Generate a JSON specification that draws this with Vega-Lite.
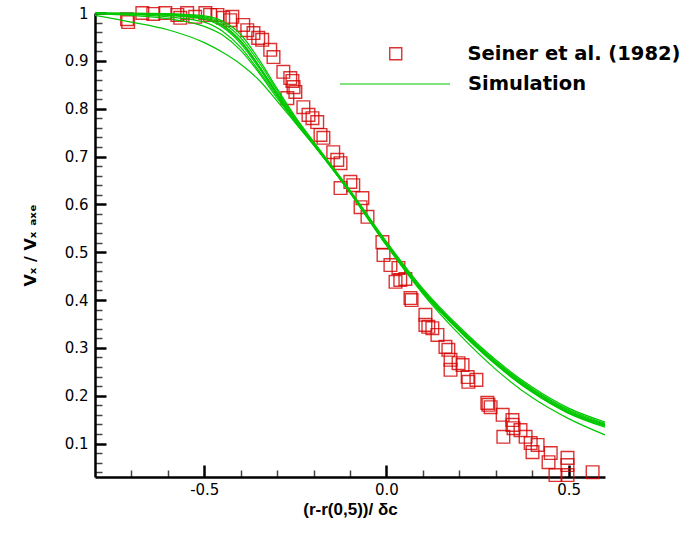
{
  "$schema": "https://vega.github.io/schema/vega-lite/v6.json",
  "width": 510,
  "height": 464,
  "autosize": {"type": "none"},
  "padding": {"left": 95, "top": 13, "right": 93, "bottom": 57},
  "background": "white",
  "config": {"view": {"stroke": null}},
  "datasets": {
    "exp": [
      {"x": -0.712, "y": 0.987, "label": "Seiner et al. (1982)"},
      {"x": -0.709, "y": 0.981, "label": "Seiner et al. (1982)"},
      {"x": -0.670, "y": 1.0, "label": "Seiner et al. (1982)"},
      {"x": -0.640, "y": 0.998, "label": "Seiner et al. (1982)"},
      {"x": -0.607, "y": 1.0, "label": "Seiner et al. (1982)"},
      {"x": -0.574, "y": 0.996, "label": "Seiner et al. (1982)"},
      {"x": -0.566, "y": 0.990, "label": "Seiner et al. (1982)"},
      {"x": -0.547, "y": 1.0, "label": "Seiner et al. (1982)"},
      {"x": -0.525, "y": 0.992, "label": "Seiner et al. (1982)"},
      {"x": -0.497, "y": 1.0, "label": "Seiner et al. (1982)"},
      {"x": -0.484, "y": 0.996, "label": "Seiner et al. (1982)"},
      {"x": -0.464, "y": 0.996, "label": "Seiner et al. (1982)"},
      {"x": -0.448, "y": 0.990, "label": "Seiner et al. (1982)"},
      {"x": -0.429, "y": 0.985, "label": "Seiner et al. (1982)"},
      {"x": -0.423, "y": 0.992, "label": "Seiner et al. (1982)"},
      {"x": -0.393, "y": 0.975, "label": "Seiner et al. (1982)"},
      {"x": -0.382, "y": 0.964, "label": "Seiner et al. (1982)"},
      {"x": -0.365, "y": 0.958, "label": "Seiner et al. (1982)"},
      {"x": -0.352, "y": 0.948, "label": "Seiner et al. (1982)"},
      {"x": -0.341, "y": 0.944, "label": "Seiner et al. (1982)"},
      {"x": -0.319, "y": 0.923, "label": "Seiner et al. (1982)"},
      {"x": -0.310, "y": 0.908, "label": "Seiner et al. (1982)"},
      {"x": -0.283, "y": 0.877, "label": "Seiner et al. (1982)"},
      {"x": -0.264, "y": 0.864, "label": "Seiner et al. (1982)"},
      {"x": -0.258, "y": 0.858, "label": "Seiner et al. (1982)"},
      {"x": -0.255, "y": 0.845, "label": "Seiner et al. (1982)"},
      {"x": -0.250, "y": 0.835, "label": "Seiner et al. (1982)"},
      {"x": -0.272, "y": 0.822, "label": "Seiner et al. (1982)"},
      {"x": -0.228, "y": 0.803, "label": "Seiner et al. (1982)"},
      {"x": -0.214, "y": 0.787, "label": "Seiner et al. (1982)"},
      {"x": -0.203, "y": 0.780, "label": "Seiner et al. (1982)"},
      {"x": -0.190, "y": 0.772, "label": "Seiner et al. (1982)"},
      {"x": -0.181, "y": 0.745, "label": "Seiner et al. (1982)"},
      {"x": -0.173, "y": 0.739, "label": "Seiner et al. (1982)"},
      {"x": -0.146, "y": 0.709, "label": "Seiner et al. (1982)"},
      {"x": -0.135, "y": 0.693, "label": "Seiner et al. (1982)"},
      {"x": -0.126, "y": 0.686, "label": "Seiner et al. (1982)"},
      {"x": -0.099, "y": 0.647, "label": "Seiner et al. (1982)"},
      {"x": -0.091, "y": 0.640, "label": "Seiner et al. (1982)"},
      {"x": -0.126, "y": 0.634, "label": "Seiner et al. (1982)"},
      {"x": -0.066, "y": 0.613, "label": "Seiner et al. (1982)"},
      {"x": -0.071, "y": 0.594, "label": "Seiner et al. (1982)"},
      {"x": -0.052, "y": 0.574, "label": "Seiner et al. (1982)"},
      {"x": -0.011, "y": 0.521, "label": "Seiner et al. (1982)"},
      {"x": -0.008, "y": 0.494, "label": "Seiner et al. (1982)"},
      {"x": 0.011, "y": 0.473, "label": "Seiner et al. (1982)"},
      {"x": 0.033, "y": 0.467, "label": "Seiner et al. (1982)"},
      {"x": 0.025, "y": 0.438, "label": "Seiner et al. (1982)"},
      {"x": 0.038, "y": 0.442, "label": "Seiner et al. (1982)"},
      {"x": 0.052, "y": 0.444, "label": "Seiner et al. (1982)"},
      {"x": 0.066, "y": 0.404, "label": "Seiner et al. (1982)"},
      {"x": 0.069, "y": 0.400, "label": "Seiner et al. (1982)"},
      {"x": 0.107, "y": 0.369, "label": "Seiner et al. (1982)"},
      {"x": 0.107, "y": 0.348, "label": "Seiner et al. (1982)"},
      {"x": 0.115, "y": 0.344, "label": "Seiner et al. (1982)"},
      {"x": 0.126, "y": 0.341, "label": "Seiner et al. (1982)"},
      {"x": 0.140, "y": 0.327, "label": "Seiner et al. (1982)"},
      {"x": 0.162, "y": 0.302, "label": "Seiner et al. (1982)"},
      {"x": 0.170, "y": 0.296, "label": "Seiner et al. (1982)"},
      {"x": 0.176, "y": 0.275, "label": "Seiner et al. (1982)"},
      {"x": 0.176, "y": 0.254, "label": "Seiner et al. (1982)"},
      {"x": 0.198, "y": 0.268, "label": "Seiner et al. (1982)"},
      {"x": 0.209, "y": 0.264, "label": "Seiner et al. (1982)"},
      {"x": 0.223, "y": 0.239, "label": "Seiner et al. (1982)"},
      {"x": 0.225, "y": 0.229, "label": "Seiner et al. (1982)"},
      {"x": 0.247, "y": 0.233, "label": "Seiner et al. (1982)"},
      {"x": 0.277, "y": 0.185, "label": "Seiner et al. (1982)"},
      {"x": 0.280, "y": 0.181, "label": "Seiner et al. (1982)"},
      {"x": 0.286, "y": 0.176, "label": "Seiner et al. (1982)"},
      {"x": 0.319, "y": 0.160, "label": "Seiner et al. (1982)"},
      {"x": 0.321, "y": 0.114, "label": "Seiner et al. (1982)"},
      {"x": 0.346, "y": 0.149, "label": "Seiner et al. (1982)"},
      {"x": 0.346, "y": 0.139, "label": "Seiner et al. (1982)"},
      {"x": 0.349, "y": 0.132, "label": "Seiner et al. (1982)"},
      {"x": 0.368, "y": 0.128, "label": "Seiner et al. (1982)"},
      {"x": 0.382, "y": 0.114, "label": "Seiner et al. (1982)"},
      {"x": 0.396, "y": 0.101, "label": "Seiner et al. (1982)"},
      {"x": 0.401, "y": 0.082, "label": "Seiner et al. (1982)"},
      {"x": 0.415, "y": 0.097, "label": "Seiner et al. (1982)"},
      {"x": 0.451, "y": 0.080, "label": "Seiner et al. (1982)"},
      {"x": 0.445, "y": 0.061, "label": "Seiner et al. (1982)"},
      {"x": 0.497, "y": 0.070, "label": "Seiner et al. (1982)"},
      {"x": 0.497, "y": 0.055, "label": "Seiner et al. (1982)"},
      {"x": 0.464, "y": 0.034, "label": "Seiner et al. (1982)"},
      {"x": 0.497, "y": 0.034, "label": "Seiner et al. (1982)"},
      {"x": 0.566, "y": 0.040, "label": "Seiner et al. (1982)"}
    ],
    "sim": [
      {"c": 1, "x": -0.8, "y": 1.0}, {"c": 1, "x": -0.7, "y": 1.0}, {"c": 1, "x": -0.6, "y": 0.999}, {"c": 1, "x": -0.5, "y": 0.994}, {"c": 1, "x": -0.45, "y": 0.983}, {"c": 1, "x": -0.4, "y": 0.955}, {"c": 1, "x": -0.35, "y": 0.903}, {"c": 1, "x": -0.3, "y": 0.842}, {"c": 1, "x": -0.25, "y": 0.783}, {"c": 1, "x": -0.2, "y": 0.731}, {"c": 1, "x": -0.1, "y": 0.63}, {"c": 1, "x": 0, "y": 0.522}, {"c": 1, "x": 0.1, "y": 0.424}, {"c": 1, "x": 0.2, "y": 0.344}, {"c": 1, "x": 0.3, "y": 0.275}, {"c": 1, "x": 0.4, "y": 0.218}, {"c": 1, "x": 0.5, "y": 0.174}, {"c": 1, "x": 0.6, "y": 0.145},
      {"c": 2, "x": -0.8, "y": 1.0}, {"c": 2, "x": -0.7, "y": 0.999}, {"c": 2, "x": -0.6, "y": 0.998}, {"c": 2, "x": -0.5, "y": 0.992}, {"c": 2, "x": -0.45, "y": 0.979}, {"c": 2, "x": -0.4, "y": 0.948}, {"c": 2, "x": -0.35, "y": 0.897}, {"c": 2, "x": -0.3, "y": 0.838}, {"c": 2, "x": -0.25, "y": 0.781}, {"c": 2, "x": -0.2, "y": 0.73}, {"c": 2, "x": -0.1, "y": 0.628}, {"c": 2, "x": 0, "y": 0.52}, {"c": 2, "x": 0.1, "y": 0.421}, {"c": 2, "x": 0.2, "y": 0.341}, {"c": 2, "x": 0.3, "y": 0.272}, {"c": 2, "x": 0.4, "y": 0.215}, {"c": 2, "x": 0.5, "y": 0.171}, {"c": 2, "x": 0.6, "y": 0.142},
      {"c": 3, "x": -0.8, "y": 1.0}, {"c": 3, "x": -0.7, "y": 0.999}, {"c": 3, "x": -0.6, "y": 0.997}, {"c": 3, "x": -0.5, "y": 0.99}, {"c": 3, "x": -0.45, "y": 0.975}, {"c": 3, "x": -0.4, "y": 0.942}, {"c": 3, "x": -0.35, "y": 0.89}, {"c": 3, "x": -0.3, "y": 0.833}, {"c": 3, "x": -0.25, "y": 0.778}, {"c": 3, "x": -0.2, "y": 0.728}, {"c": 3, "x": -0.1, "y": 0.627}, {"c": 3, "x": 0, "y": 0.517}, {"c": 3, "x": 0.1, "y": 0.418}, {"c": 3, "x": 0.2, "y": 0.338}, {"c": 3, "x": 0.3, "y": 0.268}, {"c": 3, "x": 0.4, "y": 0.21}, {"c": 3, "x": 0.5, "y": 0.166}, {"c": 3, "x": 0.6, "y": 0.138},
      {"c": 4, "x": -0.8, "y": 0.999}, {"c": 4, "x": -0.7, "y": 0.998}, {"c": 4, "x": -0.6, "y": 0.995}, {"c": 4, "x": -0.5, "y": 0.987}, {"c": 4, "x": -0.45, "y": 0.97}, {"c": 4, "x": -0.4, "y": 0.936}, {"c": 4, "x": -0.35, "y": 0.885}, {"c": 4, "x": -0.3, "y": 0.829}, {"c": 4, "x": -0.25, "y": 0.775}, {"c": 4, "x": -0.2, "y": 0.726}, {"c": 4, "x": -0.1, "y": 0.625}, {"c": 4, "x": 0, "y": 0.515}, {"c": 4, "x": 0.1, "y": 0.416}, {"c": 4, "x": 0.2, "y": 0.336}, {"c": 4, "x": 0.3, "y": 0.266}, {"c": 4, "x": 0.4, "y": 0.208}, {"c": 4, "x": 0.5, "y": 0.164}, {"c": 4, "x": 0.6, "y": 0.136},
      {"c": 5, "x": -0.8, "y": 0.999}, {"c": 5, "x": -0.7, "y": 0.997}, {"c": 5, "x": -0.6, "y": 0.992}, {"c": 5, "x": -0.5, "y": 0.981}, {"c": 5, "x": -0.45, "y": 0.962}, {"c": 5, "x": -0.4, "y": 0.928}, {"c": 5, "x": -0.35, "y": 0.879}, {"c": 5, "x": -0.3, "y": 0.826}, {"c": 5, "x": -0.25, "y": 0.774}, {"c": 5, "x": -0.2, "y": 0.725}, {"c": 5, "x": -0.1, "y": 0.624}, {"c": 5, "x": 0, "y": 0.514}, {"c": 5, "x": 0.1, "y": 0.415}, {"c": 5, "x": 0.2, "y": 0.335}, {"c": 5, "x": 0.3, "y": 0.265}, {"c": 5, "x": 0.4, "y": 0.207}, {"c": 5, "x": 0.5, "y": 0.163}, {"c": 5, "x": 0.6, "y": 0.134},
      {"c": 6, "x": -0.8, "y": 0.999}, {"c": 6, "x": -0.7, "y": 0.998}, {"c": 6, "x": -0.6, "y": 0.996}, {"c": 6, "x": -0.5, "y": 0.988}, {"c": 6, "x": -0.45, "y": 0.973}, {"c": 6, "x": -0.4, "y": 0.94}, {"c": 6, "x": -0.35, "y": 0.888}, {"c": 6, "x": -0.3, "y": 0.831}, {"c": 6, "x": -0.25, "y": 0.776}, {"c": 6, "x": -0.2, "y": 0.726}, {"c": 6, "x": -0.1, "y": 0.625}, {"c": 6, "x": 0, "y": 0.515}, {"c": 6, "x": 0.1, "y": 0.413}, {"c": 6, "x": 0.2, "y": 0.328}, {"c": 6, "x": 0.3, "y": 0.255}, {"c": 6, "x": 0.4, "y": 0.196}, {"c": 6, "x": 0.5, "y": 0.152}, {"c": 6, "x": 0.6, "y": 0.118},
      {"c": 7, "x": -0.8, "y": 0.995}, {"c": 7, "x": -0.7, "y": 0.981}, {"c": 7, "x": -0.6, "y": 0.965}, {"c": 7, "x": -0.5, "y": 0.938}, {"c": 7, "x": -0.45, "y": 0.918}, {"c": 7, "x": -0.4, "y": 0.893}, {"c": 7, "x": -0.35, "y": 0.86}, {"c": 7, "x": -0.3, "y": 0.816}, {"c": 7, "x": -0.25, "y": 0.77}, {"c": 7, "x": -0.2, "y": 0.724}, {"c": 7, "x": -0.1, "y": 0.626}, {"c": 7, "x": 0, "y": 0.518}, {"c": 7, "x": 0.1, "y": 0.42}, {"c": 7, "x": 0.2, "y": 0.34}, {"c": 7, "x": 0.3, "y": 0.27}, {"c": 7, "x": 0.4, "y": 0.213}, {"c": 7, "x": 0.5, "y": 0.169}, {"c": 7, "x": 0.6, "y": 0.14},
      {"c": 8, "x": -0.8, "y": 0.998}, {"c": 8, "x": -0.7, "y": 0.995}, {"c": 8, "x": -0.6, "y": 0.988}, {"c": 8, "x": -0.5, "y": 0.972}, {"c": 8, "x": -0.45, "y": 0.954}, {"c": 8, "x": -0.4, "y": 0.922}, {"c": 8, "x": -0.35, "y": 0.875}, {"c": 8, "x": -0.3, "y": 0.822}, {"c": 8, "x": -0.25, "y": 0.772}, {"c": 8, "x": -0.2, "y": 0.725}, {"c": 8, "x": -0.1, "y": 0.625}, {"c": 8, "x": 0, "y": 0.516}, {"c": 8, "x": 0.1, "y": 0.418}, {"c": 8, "x": 0.2, "y": 0.338}, {"c": 8, "x": 0.3, "y": 0.268}, {"c": 8, "x": 0.4, "y": 0.211}, {"c": 8, "x": 0.5, "y": 0.167}, {"c": 8, "x": 0.6, "y": 0.139}
    ]
  },
  "layer": [
    {
      "data": {"name": "exp"},
      "mark": {"type": "point", "shape": "square", "filled": false, "size": 160, "color": "#d40000", "strokeWidth": 1.4, "opacity": 0.8},
      "encoding": {
        "x": {"field": "x", "type": "quantitative", "scale": {"domain": [-0.8, 0.6], "nice": false, "zero": false},
          "axis": {"orient": "bottom", "values": [-0.7, -0.6, -0.4, -0.3, -0.2, -0.1, 0.1, 0.2, 0.3, 0.4], "labels": false, "domain": false, "grid": false, "title": null, "tickSize": -7, "tickWidth": 1.5, "tickColor": "#444444"}},
        "y": {"field": "y", "type": "quantitative", "scale": {"domain": [0.03, 1], "nice": false, "zero": false},
          "axis": {"orient": "left", "values": [0.04, 0.06, 0.08, 0.12, 0.14, 0.16, 0.18, 0.22, 0.24, 0.26, 0.28, 0.32, 0.34, 0.36, 0.38, 0.42, 0.44, 0.46, 0.48, 0.52, 0.54, 0.56, 0.58, 0.62, 0.64, 0.66, 0.68, 0.72, 0.74, 0.76, 0.78, 0.82, 0.84, 0.86, 0.88, 0.92, 0.94, 0.96, 0.98], "labels": false, "domain": false, "grid": false, "title": null, "tickSize": -7, "tickWidth": 1.5, "tickColor": "#444444"}},
        "shape": {"field": "label", "type": "nominal", "scale": {"domain": ["Seiner et al. (1982)"], "range": ["square"]},
          "legend": {"title": null, "orient": "none", "legendX": 291, "legendY": 31, "padding": 0, "symbolSize": 144, "symbolStrokeColor": "#d40000", "symbolFillColor": "transparent", "symbolStrokeWidth": 1.4, "labelFont": "DejaVu Sans", "labelFontWeight": "bold", "labelFontSize": 19.5, "labelColor": "black", "labelOffset": 62, "labelLimit": 400}}
      }
    },
    {
      "data": {"name": "sim"},
      "mark": {"type": "line", "interpolate": "monotone", "color": "#00c800", "strokeWidth": 1.2},
      "encoding": {
        "x": {"field": "x", "type": "quantitative",
          "axis": {"orient": "bottom", "values": [-0.5, 0, 0.5], "labelExpr": "replace(datum.label, '−', '-')", "grid": false, "tickSize": -12, "tickWidth": 2.5, "tickColor": "black", "domainWidth": 2.5, "domainColor": "black", "labelFont": "DejaVu Sans", "labelFontSize": 15, "labelColor": "black", "labelPadding": 17, "title": "(r-r(0,5))/ δc", "titleFont": "Liberation Sans", "titleFontSize": 17, "titleFontWeight": "bold", "titleColor": "black", "titlePadding": 4}},
        "y": {"field": "y", "type": "quantitative",
          "axis": {"orient": "left", "values": [0.1, 0.2, 0.3, 0.4, 0.5, 0.6, 0.7, 0.8, 0.9, 1], "format": ".1~f", "grid": false, "tickSize": -11, "tickWidth": 2.5, "tickColor": "black", "domainWidth": 2.5, "domainColor": "black", "labelFont": "DejaVu Sans", "labelFontSize": 15, "labelColor": "black", "labelPadding": 18, "title": "Vₓ / Vₓ ₐₓₑ", "titleFont": "DejaVu Sans", "titleFontSize": 16, "titleFontWeight": "bold", "titleColor": "black", "titlePadding": 26}},
        "detail": {"field": "c", "type": "nominal"},
        "strokeDash": {"field": "lab", "type": "nominal", "scale": {"domain": ["Simulation"], "range": [[1, 0]]},
          "legend": {"title": null, "orient": "none", "legendX": 244, "legendY": 15, "padding": 0, "symbolType": "stroke", "symbolSize": 12100, "symbolStrokeColor": "#00c800", "symbolStrokeWidth": 1.2, "labelFont": "DejaVu Sans", "labelFontWeight": "bold", "labelFontSize": 19.5, "labelColor": "black", "labelOffset": 17, "labelLimit": 400}}
      }
    }
  ],
  "resolve": {"axis": {"x": "independent", "y": "independent"}}
}
